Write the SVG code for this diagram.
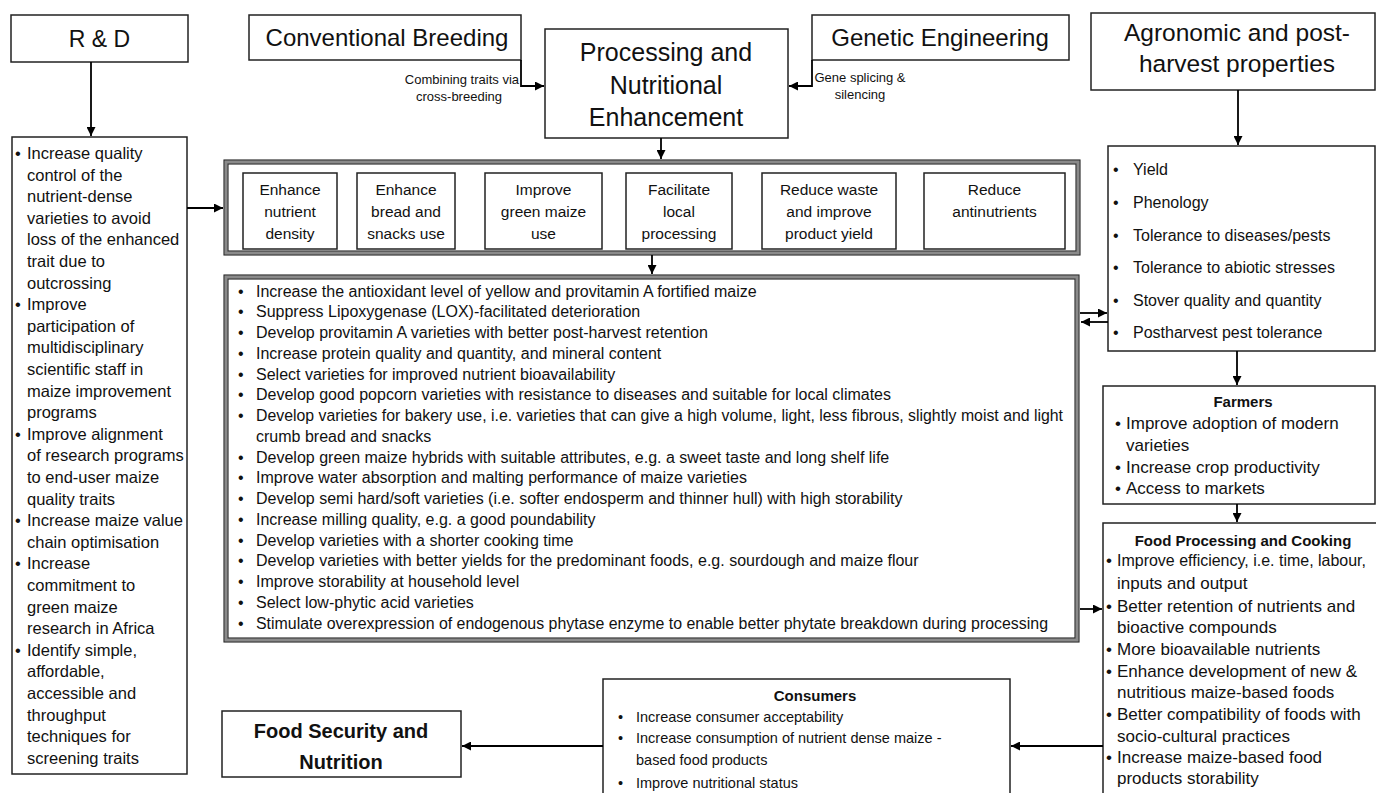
<svg xmlns="http://www.w3.org/2000/svg" width="1376" height="793" viewBox="0 0 1376 793">
<defs>
<marker id="ah" markerUnits="userSpaceOnUse" markerWidth="10" markerHeight="9" refX="9" refY="4.5" orient="auto">
<path d="M0,0 L9,4.5 L0,9 z" fill="#000"/>
</marker>
<style>
text{font-family:"Liberation Sans",Arial,sans-serif;fill:#111}
.box{fill:#fff;stroke:#222;stroke-width:1.5}
.dbl{fill:#fff;stroke:#8a8a8a;stroke-width:3.5}
.thin{fill:none;stroke:#222;stroke-width:1.1}
.t24{font-size:24px;text-anchor:middle}
.t25{font-size:25px;text-anchor:middle}
.lab{font-size:13px}
.opt{font-size:15.5px;text-anchor:middle}
.ml{font-size:16px}
.rd{font-size:16.5px}
.r17{font-size:17px}
.hd{font-size:15px;font-weight:bold;text-anchor:middle}
.cs{font-size:14.5px}
.fs{font-size:20px;font-weight:bold;text-anchor:middle}
.con{fill:none;stroke:#000;stroke-width:1.8;marker-end:url(#ah)}
</style>
</defs>
<rect width="1376" height="793" fill="#fff"/>

<g id="rd">
<rect class="box" x="11" y="15" width="177" height="47"/>
<text class="t24" x="99.5" y="47" style="font-size:23px">R &amp; D</text>
</g>

<g id="conventional">
<rect class="box" x="249" y="15" width="272" height="45"/>
<text class="t24" x="387" y="46">Conventional Breeding</text>
</g>

<g id="processing">
<rect class="box" x="545" y="29" width="243" height="109"/>
<text class="t25" x="666" y="61">Processing and</text>
<text class="t25" x="666" y="94">Nutritional</text>
<text class="t25" x="666" y="126">Enhancement</text>
</g>

<g id="genetic">
<rect class="box" x="812" y="15" width="257" height="45"/>
<text class="t24" x="940" y="46">Genetic Engineering</text>
</g>

<g id="agronomic">
<rect class="box" x="1091" y="13" width="284" height="77"/>
<text class="t24" x="1237" y="41" style="font-size:24.5px">Agronomic and post-</text>
<text class="t24" x="1237" y="72" style="font-size:24.5px">harvest properties</text>
</g>

<g id="rd-list">
<rect class="box" x="12" y="137" width="175" height="637"/>
<g class="rd">
<text x="15" y="159">•</text><text x="27" y="159">Increase quality</text>
<text x="27" y="180.6">control of the</text>
<text x="27" y="202.2">nutrient-dense</text>
<text x="27" y="223.8">varieties to avoid</text>
<text x="27" y="245.4">loss of the enhanced</text>
<text x="27" y="267">trait due to</text>
<text x="27" y="288.6">outcrossing</text>
<text x="15" y="310.2">•</text><text x="27" y="310.2">Improve</text>
<text x="27" y="331.8">participation of</text>
<text x="27" y="353.4">multidisciplinary</text>
<text x="27" y="375">scientific staff in</text>
<text x="27" y="396.6">maize improvement</text>
<text x="27" y="418.2">programs</text>
<text x="15" y="439.8">•</text><text x="27" y="439.8">Improve alignment</text>
<text x="27" y="461.4">of research programs</text>
<text x="27" y="483">to end-user maize</text>
<text x="27" y="504.6">quality traits</text>
<text x="15" y="526.2">•</text><text x="27" y="526.2">Increase maize value</text>
<text x="27" y="547.8">chain optimisation</text>
<text x="15" y="569.4">•</text><text x="27" y="569.4">Increase</text>
<text x="27" y="591">commitment to</text>
<text x="27" y="612.6">green maize</text>
<text x="27" y="634.2">research in Africa</text>
<text x="15" y="655.8">•</text><text x="27" y="655.8">Identify simple,</text>
<text x="27" y="677.4">affordable,</text>
<text x="27" y="699">accessible and</text>
<text x="27" y="720.6">throughput</text>
<text x="27" y="742.2">techniques for</text>
<text x="27" y="763.8">screening traits</text>
</g>
</g>

<g id="options">
<rect class="dbl" x="226" y="162" width="852" height="91"/>
<rect class="thin" x="224" y="160" width="856" height="95"/>
<rect class="thin" x="228" y="164" width="848" height="87"/>
<g id="opt1"><rect class="box" x="243" y="173" width="94" height="76"/>
<text class="opt" x="290" y="194.5">Enhance</text><text class="opt" x="290" y="216.5">nutrient</text><text class="opt" x="290" y="238.5">density</text></g>
<g id="opt2"><rect class="box" x="357" y="173" width="98" height="76"/>
<text class="opt" x="406" y="194.5">Enhance</text><text class="opt" x="406" y="216.5">bread and</text><text class="opt" x="406" y="238.5">snacks use</text></g>
<g id="opt3"><rect class="box" x="485" y="173" width="117" height="76"/>
<text class="opt" x="543.5" y="194.5">Improve</text><text class="opt" x="543.5" y="216.5">green maize</text><text class="opt" x="543.5" y="238.5">use</text></g>
<g id="opt4"><rect class="box" x="626" y="173" width="106" height="76"/>
<text class="opt" x="679" y="194.5">Facilitate</text><text class="opt" x="679" y="216.5">local</text><text class="opt" x="679" y="238.5">processing</text></g>
<g id="opt5"><rect class="box" x="762" y="173" width="134" height="76"/>
<text class="opt" x="829" y="194.5">Reduce waste</text><text class="opt" x="829" y="216.5">and improve</text><text class="opt" x="829" y="238.5">product yield</text></g>
<g id="opt6"><rect class="box" x="924" y="173" width="141" height="76"/>
<text class="opt" x="994.5" y="194.5">Reduce</text><text class="opt" x="994.5" y="216.5">antinutrients</text></g>
</g>

<g id="main-list">
<rect class="dbl" x="226" y="277" width="851" height="363"/>
<rect class="thin" x="224" y="275" width="855" height="367"/>
<rect class="thin" x="228" y="279" width="847" height="359"/>
<g class="ml">
<text x="238" y="296.5">•</text><text x="256" y="296.5">Increase the antioxidant level of yellow and provitamin A fortified maize</text>
<text x="238" y="317.25">•</text><text x="256" y="317.25">Suppress Lipoxygenase (LOX)-facilitated deterioration</text>
<text x="238" y="338">•</text><text x="256" y="338">Develop provitamin A varieties with better post-harvest retention</text>
<text x="238" y="358.75">•</text><text x="256" y="358.75">Increase protein quality and quantity, and mineral content</text>
<text x="238" y="379.5">•</text><text x="256" y="379.5">Select varieties for improved nutrient bioavailability</text>
<text x="238" y="400.25">•</text><text x="256" y="400.25">Develop good popcorn varieties with resistance to diseases and suitable for local climates</text>
<text x="238" y="421">•</text><text x="256" y="421" textLength="807" lengthAdjust="spacingAndGlyphs">Develop varieties for bakery use, i.e. varieties that can give a high volume, light, less fibrous, slightly moist and light</text>
<text x="256" y="441.75">crumb bread and snacks</text>
<text x="238" y="462.5">•</text><text x="256" y="462.5">Develop green maize hybrids with suitable attributes, e.g. a sweet taste and long shelf life</text>
<text x="238" y="483.25">•</text><text x="256" y="483.25">Improve water absorption and malting performance of maize varieties</text>
<text x="238" y="504">•</text><text x="256" y="504">Develop semi hard/soft varieties (i.e. softer endosperm and thinner hull) with high storability</text>
<text x="238" y="524.75">•</text><text x="256" y="524.75">Increase milling quality, e.g. a good poundability</text>
<text x="238" y="545.5">•</text><text x="256" y="545.5">Develop varieties with a shorter cooking time</text>
<text x="238" y="566.25">•</text><text x="256" y="566.25">Develop varieties with better yields for the predominant foods, e.g. sourdough and maize flour</text>
<text x="238" y="587">•</text><text x="256" y="587">Improve storability at household level</text>
<text x="238" y="607.75">•</text><text x="256" y="607.75">Select low-phytic acid varieties</text>
<text x="238" y="628.5">•</text><text x="256" y="628.5" textLength="792" lengthAdjust="spacingAndGlyphs">Stimulate overexpression of endogenous phytase enzyme to enable better phytate breakdown during processing</text>
</g>
</g>

<g id="agro-list">
<rect class="box" x="1108" y="146" width="267" height="205"/>
<g class="ml">
<text x="1113" y="174.5">•</text><text x="1133" y="174.5">Yield</text>
<text x="1113" y="207.5">•</text><text x="1133" y="207.5">Phenology</text>
<text x="1113" y="240.5">•</text><text x="1133" y="240.5">Tolerance to diseases/pests</text>
<text x="1113" y="272.5">•</text><text x="1133" y="272.5">Tolerance to abiotic stresses</text>
<text x="1113" y="305.5">•</text><text x="1133" y="305.5">Stover quality and quantity</text>
<text x="1113" y="337.5">•</text><text x="1133" y="337.5">Postharvest pest tolerance</text>
</g>
</g>

<g id="farmers">
<rect class="box" x="1103" y="386" width="272" height="118"/>
<text class="hd" x="1243" y="407">Farmers</text>
<g class="r17">
<text x="1115" y="429">•</text><text x="1126" y="429">Improve adoption of modern</text>
<text x="1126" y="451">varieties</text>
<text x="1115" y="473">•</text><text x="1126" y="473">Increase crop productivity</text>
<text x="1115" y="494">•</text><text x="1126" y="494">Access to markets</text>
</g>
</g>

<g id="food-processing">
<rect class="box" x="1103" y="523" width="290" height="290"/>
<text class="hd" x="1243" y="546">Food Processing and Cooking</text>
<g class="r17">
<text x="1106" y="566">•</text><text x="1117" y="566" style="font-size:16.5px" textLength="249" lengthAdjust="spacingAndGlyphs">Improve efficiency, i.e. time, labour,</text>
<text x="1117" y="589">inputs and output</text>
<text x="1106" y="612">•</text><text x="1117" y="612">Better retention of nutrients and</text>
<text x="1117" y="633">bioactive compounds</text>
<text x="1106" y="655">•</text><text x="1117" y="655">More bioavailable nutrients</text>
<text x="1106" y="677">•</text><text x="1117" y="677">Enhance development of new &amp;</text>
<text x="1117" y="698">nutritious maize-based foods</text>
<text x="1106" y="720">•</text><text x="1117" y="720">Better compatibility of foods with</text>
<text x="1117" y="742">socio-cultural practices</text>
<text x="1106" y="763">•</text><text x="1117" y="763">Increase maize-based food</text>
<text x="1117" y="784">products storability</text>
</g>
</g>

<g id="consumers">
<rect class="box" x="603" y="679" width="407" height="130"/>
<text class="hd" x="815" y="701">Consumers</text>
<g class="cs">
<text x="618" y="722">•</text><text x="636" y="722">Increase consumer acceptability</text>
<text x="618" y="743">•</text><text x="636" y="743">Increase consumption of nutrient dense maize -</text>
<text x="636" y="765">based food products</text>
<text x="618" y="788">•</text><text x="636" y="788">Improve nutritional status</text>
</g>
</g>

<g id="food-security">
<rect class="box" x="222" y="711" width="239" height="66"/>
<text class="fs" x="341" y="738">Food Security and</text>
<text class="fs" x="341" y="769">Nutrition</text>
</g>

<g id="labels">
<text class="lab" x="519" y="84" text-anchor="end">Combining traits via</text>
<text class="lab" x="459" y="101" text-anchor="middle">cross-breeding</text>
<text class="lab" x="860" y="82" text-anchor="middle">Gene splicing &amp;</text>
<text class="lab" x="860" y="99" text-anchor="middle">silencing</text>
</g>

<g id="connectors">
<path class="con" d="M91,62 V136"/>
<path class="con" d="M521,60 V86 H544"/>
<path class="con" d="M812,60 V86 H789"/>
<path class="con" d="M661,138 V159"/>
<path class="con" d="M187,208 H223"/>
<path class="con" d="M652,255 V274"/>
<path class="con" d="M1238,90 V145"/>
<path class="con" d="M1080,313 H1107"/>
<path class="con" d="M1108,322 H1081"/>
<path class="con" d="M1237,351 V385"/>
<path class="con" d="M1237,504 V522"/>
<path class="con" d="M1080,609 H1102"/>
<path class="con" d="M1103,746 H1011"/>
<path class="con" d="M603,746 H462"/>
</g>
</svg>
